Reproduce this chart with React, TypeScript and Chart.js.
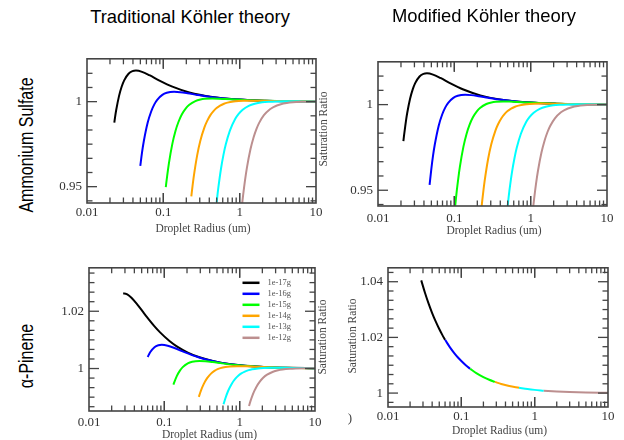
import React, { useEffect, useRef } from 'react';
import { Chart, registerables } from 'chart.js';

Chart.register(...registerables);

type Pt = [number, number];

// ---------------- data ----------------
const SERIES_LABELS = ['1e-17g', '1e-16g', '1e-15g', '1e-14g', '1e-13g', '1e-12g'];
const X_TICKS = [0.01, 0.1, 1, 10];
const Y_TICKS_AS = [0.95, 1];
const Y_TICKS_PIN = [1, 1.02];
const Y_TICKS_PIN_MOD = [1, 1.02, 1.04];

// Traditional Köhler, ammonium sulfate
const tradAS17: Pt[] = [[0.0228, 0.98772], [0.0234, 0.99134], [0.0241, 0.99493], [0.0263, 1.0034], [0.0285, 1.00888], [0.0307, 1.01252], [0.035, 1.01641], [0.0394, 1.01792], [0.0438, 1.01827], [0.0526, 1.01754], [0.0657, 1.01556], [0.0876, 1.01255], [0.1314, 1.0088], [0.219, 1.0054], [0.438, 1.00273], [0.876, 1.00137], [2.19, 1.00055], [4.38, 1.00027], [10, 1.00012]];
const tradAS16: Pt[] = [[0.0499, 0.96219], [0.0526, 0.97018], [0.0554, 0.97655], [0.0623, 0.98756], [0.0693, 0.99422], [0.0762, 0.9984], [0.0831, 1.00107], [0.097, 1.00396], [0.1108, 1.00519], [0.1385, 1.00577], [0.1662, 1.00554], [0.2078, 1.00492], [0.277, 1.00397], [0.4155, 1.00278], [0.6925, 1.00171], [1.385, 1.00086], [2.77, 1.00043], [10, 1.00012]];
const tradAS15: Pt[] = [[0.1077, 0.94978], [0.1126, 0.95685], [0.1183, 0.96375], [0.1314, 0.97531], [0.1445, 0.98289], [0.1577, 0.98804], [0.1752, 0.99258], [0.1971, 0.99607], [0.219, 0.99817], [0.2628, 1.00034], [0.3066, 1.00125], [0.3504, 1.00164], [0.438, 1.00183], [0.5256, 1.00175], [0.657, 1.00156], [0.876, 1.00126], [1.314, 1.00088], [2.19, 1.00054], [4.38, 1.00027], [10, 1.00012]];
const tradAS14: Pt[] = [[0.2327, 0.94432], [0.241, 0.95018], [0.2493, 0.95531], [0.277, 0.96824], [0.3047, 0.97683], [0.3463, 0.98499], [0.374, 0.98854], [0.4155, 0.9922], [0.457, 0.99459], [0.4986, 0.99622], [0.554, 0.99765], [0.6233, 0.99876], [0.6925, 0.99942], [0.831, 1.00011], [0.9695, 1.0004], [1.108, 1.00052], [1.385, 1.00058], [2.078, 1.00049], [2.77, 1.0004], [4.155, 1.00028], [6.925, 1.00017], [10, 1.00012]];
const tradAS13: Pt[] = [[0.4993, 0.94076], [0.5125, 0.94531], [0.5256, 0.94942], [0.5694, 0.96054], [0.6132, 0.96868], [0.657, 0.97476], [0.7446, 0.98301], [0.876, 0.98995], [0.9636, 0.99267], [1.095, 0.99525], [1.314, 0.99753], [1.577, 0.9988], [1.971, 0.99961], [2.409, 0.99995], [3.066, 1.00013], [3.942, 1.00018], [5.256, 1.00018], [6.57, 1.00016], [8.76, 1.00013], [10, 1.00011]];
const tradAS12: Pt[] = [[1.08, 0.94028], [1.108, 0.94471], [1.177, 0.95401], [1.2465, 0.96137], [1.385, 0.972], [1.5235, 0.97909], [1.662, 0.98401], [1.8005, 0.98753], [2.0775, 0.99202], [2.493, 0.99553], [2.77, 0.99682], [3.4625, 0.9985], [4.155, 0.99922], [4.986, 0.99962], [6.2325, 0.99988], [7.6175, 0.99998], [10, 1.00004]];

// Modified Köhler, ammonium sulfate (curves continue below the axis)
const modAS17: Pt[] = [[0.0215, 0.9787], [0.0219, 0.98173], ...tradAS17];
const modAS16: Pt[] = [[0.0474, 0.95315], ...tradAS16];
const modAS15: Pt[] = [[0.0964, 0.92668], [0.1029, 0.94136], ...tradAS15];
const modAS14: Pt[] = [[0.2078, 0.92024], [0.2216, 0.93494], ...tradAS14];
const modAS13: Pt[] = [[0.4818, 0.93386], ...tradAS13];
const modAS12: Pt[] = [[1.039, 0.93273], ...tradAS12];

// Traditional Köhler, alpha-pinene
const tradPin17: Pt[] = [[0.0284, 1.02617], [0.02925, 1.0262], [0.0322, 1.02589], [0.0366, 1.02473], [0.0439, 1.02232], [0.0512, 1.02001], [0.0585, 1.01801], [0.0731, 1.01488], [0.0878, 1.01262], [0.117, 1.00962], [0.1463, 1.00775], [0.2048, 1.00558], [0.2925, 1.00392], [0.4388, 1.00262], [0.585, 1.00197], [1.024, 1.00112], [2.048, 1.00056], [4.388, 1.00026], [10, 1.00011]];
const tradPin16: Pt[] = [[0.0601, 1.00403], [0.0648, 1.00569], [0.074, 1.00746], [0.0833, 1.00814], [0.0925, 1.0083], [0.111, 1.00797], [0.1388, 1.00707], [0.185, 1.00571], [0.2775, 1.004], [0.37, 1.00305], [0.555, 1.00206], [0.925, 1.00124], [1.85, 1.00062], [3.7, 1.00031], [10, 1.00012]];
const tradPin15: Pt[] = [[0.1319, 0.99442], [0.1463, 0.99737], [0.1609, 0.99927], [0.1755, 1.00049], [0.2048, 1.0018], [0.234, 1.00236], [0.2925, 1.00262], [0.351, 1.00252], [0.4388, 1.00224], [0.585, 1.0018], [0.8775, 1.00126], [1.4625, 1.00078], [2.925, 1.00039], [10, 1.00011]];
const tradPin14: Pt[] = [[0.2868, 0.99009], [0.3053, 0.99222], [0.333, 0.99456], [0.37, 0.99663], [0.4163, 0.99821], [0.4625, 0.99917], [0.5088, 0.99977], [0.555, 1.00015], [0.6475, 1.00057], [0.74, 1.00075], [0.925, 1.00083], [1.2025, 1.00077], [1.5725, 1.00065], [2.3125, 1.00047], [3.7, 1.0003], [6.0125, 1.00019], [10, 1.00011]];
const tradPin13: Pt[] = [[0.6119, 0.98755], [0.6435, 0.98946], [0.702, 0.99215], [0.7898, 0.99479], [0.8775, 0.99645], [0.9653, 0.99754], [1.053, 0.99828], [1.17, 0.99893], [1.3163, 0.99943], [1.4625, 0.99974], [1.755, 1.00005], [2.0475, 1.00018], [2.4863, 1.00025], [2.925, 1.00026], [3.8025, 1.00024], [5.265, 1.0002], [7.3125, 1.00015], [10, 1.00011]];
const tradPin12: Pt[] = [[1.33, 0.9869], [1.3875, 0.98853], [1.48, 0.99065], [1.5725, 0.99228], [1.665, 0.99358], [1.85, 0.99543], [2.035, 0.99667], [2.3125, 0.99784], [2.775, 0.99888], [3.2375, 0.99939], [3.7, 0.99966], [4.625, 0.99992], [5.55, 1.00002], [7.4, 1.00007], [10, 1.00008]];

// Modified Köhler, alpha-pinene
const modPin17: Pt[] = [[0.0284, 1.04049], [0.032, 1.03594], [0.036, 1.03194], [0.04, 1.02875], [0.045, 1.02556], [0.05, 1.023], [0.055, 1.02091], [0.0601, 1.01913]];
const modPin16: Pt[] = [[0.0601, 1.01913], [0.07, 1.01643], [0.08, 1.01438], [0.09, 1.01278], [0.1, 1.0115], [0.115, 1.01], [0.1319, 1.00872]];
const modPin15: Pt[] = [[0.1319, 1.00872], [0.16, 1.00719], [0.2, 1.00575], [0.24, 1.00479], [0.2868, 1.00401]];
const modPin14: Pt[] = [[0.2868, 1.00401], [0.35, 1.00329], [0.45, 1.00256], [0.6119, 1.00188]];
const modPin13: Pt[] = [[0.6119, 1.00188], [0.8, 1.00144], [1.0, 1.00115], [1.33, 1.00086]];
const modPin12: Pt[] = [[1.33, 1.00086], [2, 1.00058], [3, 1.00038], [5, 1.00023], [10, 1.00012]];

const TRAD_AS = [tradAS17, tradAS16, tradAS15, tradAS14, tradAS13, tradAS12];
const MOD_AS = [modAS17, modAS16, modAS15, modAS14, modAS13, modAS12];
const TRAD_PIN = [tradPin17, tradPin16, tradPin15, tradPin14, tradPin13, tradPin12];
const MOD_PIN = [modPin17, modPin16, modPin15, modPin14, modPin13, modPin12];

const COL_TITLES = ['Traditional Köhler theory', 'Modified Köhler theory'];
const ROW_TITLES = ['Ammonium Sulfate', 'α-Pinene'];
const X_TITLE = 'Droplet Radius (um)';
const Y_TITLE = 'Saturation Ratio';

// ---------------- style / layout ----------------
const SERIES_COLORS = ['#000000', '#0000ff', '#00ff00', '#ffa500', '#00ffff', '#bc8f8f'];
const SERIF = '"Liberation Serif", "Times New Roman", serif';
const SANS = '"Liberation Sans", Arial, sans-serif';
const AXIS_W = 50;
const AXIS_H = 30;
const PAD_T = 10;
const PAD_R = 15;

interface PanelCfg {
  left: number; top: number; w: number; h: number;
  yMin: number; yMax: number; yTicks: number[];
  series: Pt[][]; xPad: number; legend: boolean;
}

const PANELS: PanelCfg[] = [
  { left: 87, top: 56, w: 229, h: 147, yMin: 0.9404, yMax: 1.0252, yTicks: Y_TICKS_AS, series: TRAD_AS, xPad: 2, legend: false },
  { left: 378, top: 59, w: 229, h: 147, yMin: 0.9408, yMax: 1.025, yTicks: Y_TICKS_AS, series: MOD_AS, xPad: 4.5, legend: false },
  { left: 89, top: 265, w: 226, h: 146, yMin: 0.98517, yMax: 1.03517, yTicks: Y_TICKS_PIN, series: TRAD_PIN, xPad: 4, legend: true },
  { left: 388, top: 265, w: 220, h: 142, yMin: 0.995, yMax: 1.045, yTicks: Y_TICKS_PIN_MOD, series: MOD_PIN, xPad: 2, legend: false },
];

function Panel({ cfg }: { cfg: PanelCfg }) {
  const ref = useRef<HTMLCanvasElement>(null);
  useEffect(() => {
    const canvas = ref.current;
    if (!canvas) return;
    const majorStep = cfg.yTicks.length > 1 ? cfg.yTicks[1] - cfg.yTicks[0] : 0.05;
    const frame = {
      id: 'frameTicks',
      afterDraw(chart: any) {
        const { ctx, chartArea } = chart;
        const { left, right, top, bottom } = chartArea;
        const xs = chart.scales.x;
        const ys = chart.scales.y;
        ctx.save();
        ctx.strokeStyle = '#444';
        ctx.lineWidth = 1.3;
        const seg = (x1: number, y1: number, x2: number, y2: number) => {
          ctx.beginPath(); ctx.moveTo(x1, y1); ctx.lineTo(x2, y2); ctx.stroke();
        };
        // x ticks (log)
        for (const d of [0.01, 0.1, 1]) {
          for (let m = 1; m <= 10; m++) {
            const v = d * m;
            const len = m === 1 || m === 10 ? 10 : 5.5;
            const px = xs.getPixelForValue(v);
            if (px <= left + 1 || px >= right - 1) continue;
            seg(px, bottom, px, bottom - len);
            seg(px, top, px, top + len);
          }
        }
        // y ticks (6 subdivisions per major step)
        const step = majorStep / 6;
        const base = cfg.yTicks[0];
        for (let k = -60; k <= 60; k++) {
          const v = base + k * step;
          if (v < cfg.yMin || v > cfg.yMax) continue;
          const len = k % 6 === 0 ? 10 : 5.5;
          const py = ys.getPixelForValue(v);
          if (py <= top + 1 || py >= bottom - 1) continue;
          seg(left, py, left + len, py);
          seg(right, py, right - len, py);
        }
        ctx.lineWidth = 1.6;
        ctx.strokeRect(left, top, right - left, bottom - top);
        ctx.restore();
      },
    };
    const legend = {
      id: 'panelLegend',
      afterDatasetsDraw(chart: any) {
        if (!cfg.legend) return;
        const { ctx, chartArea } = chart;
        ctx.save();
        chart.data.datasets.forEach((ds: any, i: number) => {
          const y = chartArea.top + 15 + i * 11;
          ctx.strokeStyle = ds.borderColor;
          ctx.lineWidth = 2.5;
          ctx.beginPath();
          ctx.moveTo(chartArea.right - 72.5, y);
          ctx.lineTo(chartArea.right - 55.5, y);
          ctx.stroke();
          ctx.fillStyle = '#555';
          ctx.font = `8.5px ${SERIF}`;
          ctx.textBaseline = 'middle';
          ctx.textAlign = 'left';
          ctx.fillText(ds.label, chartArea.right - 47.5, y);
        });
        ctx.restore();
      },
    };
    const chart = new Chart(canvas, {
      type: 'line',
      data: {
        datasets: cfg.series.map((pts, i) => ({
          label: SERIES_LABELS[i],
          data: pts.map(([x, y]) => ({ x, y })),
          borderColor: SERIES_COLORS[i],
          backgroundColor: SERIES_COLORS[i],
          borderWidth: 2,
          pointRadius: 0,
          cubicInterpolationMode: 'monotone' as const,
          fill: false,
          order: 5 - i,
        })),
      },
      options: {
        responsive: false,
        maintainAspectRatio: false,
        animation: false,
        events: [],
        layout: { padding: { top: PAD_T, right: PAD_R, left: 0, bottom: 0 } },
        plugins: { legend: { display: false }, tooltip: { enabled: false } },
        scales: {
          x: {
            type: 'logarithmic',
            min: 0.01,
            max: 10,
            grid: { display: false, drawTicks: false },
            border: { display: false },
            ticks: {
              autoSkip: false,
              maxRotation: 0,
              padding: cfg.xPad,
              color: '#333',
              font: { family: SERIF, size: 13 },
              callback: (v: any) => String(v),
            },
            afterBuildTicks: (s: any) => { s.ticks = X_TICKS.map((v) => ({ value: v })); },
            afterFit: (s: any) => { s.height = AXIS_H; },
          },
          y: {
            type: 'linear',
            min: cfg.yMin,
            max: cfg.yMax,
            grid: { display: false, drawTicks: false },
            border: { display: false },
            ticks: {
              autoSkip: false,
              padding: 5,
              color: '#333',
              font: { family: SERIF, size: 13 },
              callback: (v: any) => String(v),
            },
            afterBuildTicks: (s: any) => { s.ticks = cfg.yTicks.map((v) => ({ value: v })); },
            afterFit: (s: any) => { s.width = AXIS_W; },
          },
        },
      } as any,
      plugins: [frame, legend],
    });
    return () => chart.destroy();
  }, [cfg]);
  return (
    <canvas
      ref={ref}
      width={cfg.w + AXIS_W + PAD_R}
      height={cfg.h + PAD_T + AXIS_H}
      style={{ position: 'absolute', left: cfg.left - AXIS_W, top: cfg.top - PAD_T, display: 'block' }}
    />
  );
}

interface LabelProps {
  x: number; y: number; text: string; family: string; size: number; color: string;
  rotate?: boolean; squeeze?: number;
}

function Label({ x, y, text, family, size, color, rotate, squeeze }: LabelProps) {
  let t = 'translate(-50%, -50%)';
  if (rotate) t += ' rotate(-90deg)';
  if (squeeze) t += ` scaleX(${squeeze})`;
  return (
    <div
      style={{
        position: 'absolute', left: x, top: y, transform: t, whiteSpace: 'nowrap',
        lineHeight: 1, fontFamily: family, fontSize: size, color,
      }}
    >
      {text}
    </div>
  );
}

export default function App() {
  return (
    <div style={{ position: 'absolute', left: 0, top: 0, width: 624, height: 440, overflow: 'hidden', background: '#fff' }}>
      {PANELS.map((p, i) => <Panel key={i} cfg={p} />)}
      <Label x={190} y={16.5} text={COL_TITLES[0]} family={SANS} size={18.4} color="#000" />
      <Label x={484} y={15.5} text={COL_TITLES[1]} family={SANS} size={18.4} color="#000" />
      <Label x={25.5} y={145} text={ROW_TITLES[0]} family={SANS} size={20} color="#000" rotate squeeze={0.8} />
      <Label x={25.5} y={355.5} text={ROW_TITLES[1]} family={SANS} size={20} color="#000" rotate squeeze={0.8} />
      <Label x={324} y={128.5} text={Y_TITLE} family={SERIF} size={11.5} color="#444" rotate />
      <Label x={323} y={336.5} text={Y_TITLE} family={SERIF} size={11.5} color="#444" rotate />
      <Label x={352.5} y={336} text={Y_TITLE} family={SERIF} size={11.5} color="#444" rotate />
      <Label x={203} y={228.5} text={X_TITLE} family={SERIF} size={11.5} color="#444" />
      <Label x={494} y={231} text={X_TITLE} family={SERIF} size={11.5} color="#444" />
      <Label x={209.5} y={434.5} text={X_TITLE} family={SERIF} size={11.5} color="#444" />
      <Label x={499.5} y={430.5} text={X_TITLE} family={SERIF} size={11.5} color="#444" />
      <Label x={350} y={416.5} text=")" family={SERIF} size={13} color="#444" />
    </div>
  );
}
